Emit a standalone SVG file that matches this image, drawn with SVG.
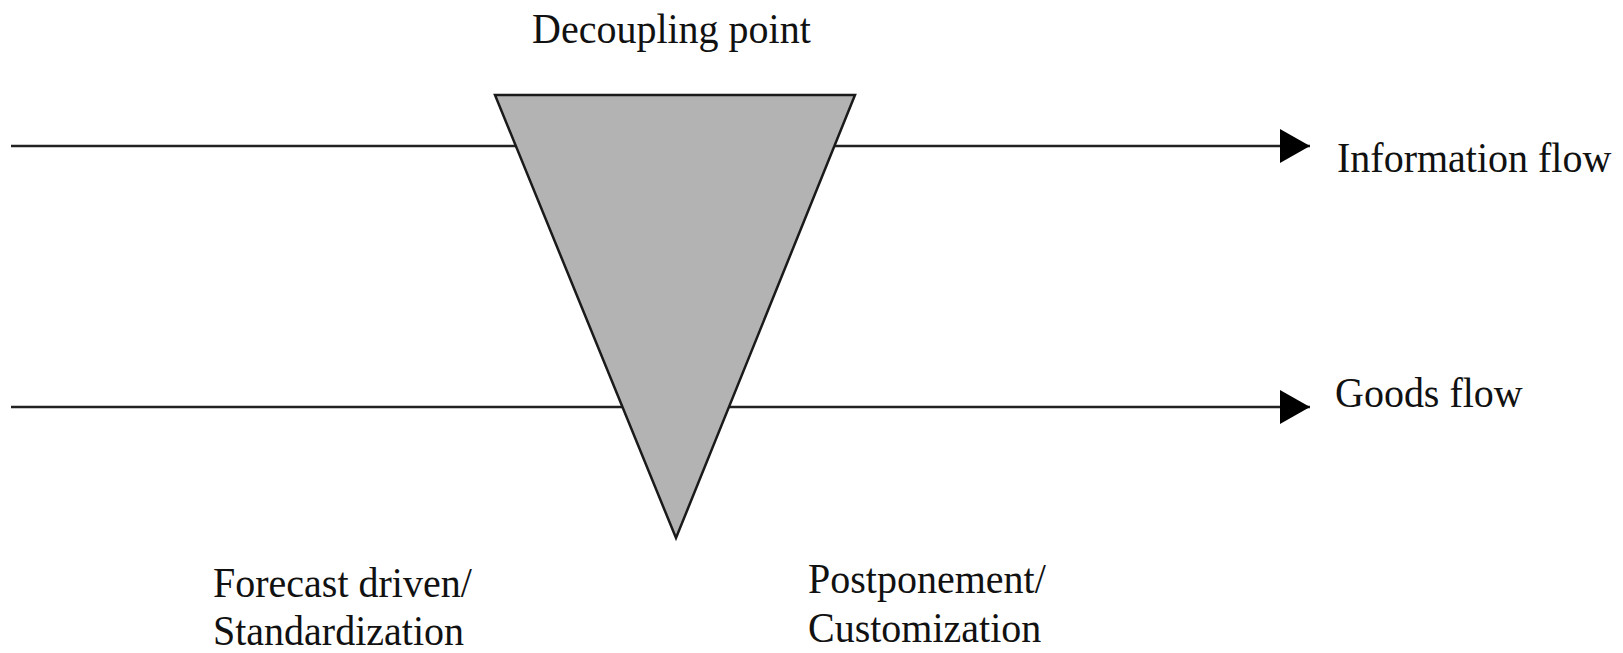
<svg xmlns="http://www.w3.org/2000/svg" width="1623" height="653" viewBox="0 0 1623 653">
<style>
text{font-family:"Liberation Serif","Times New Roman",serif;font-size:40px;fill:#111}
.flow{stroke:#222;stroke-width:2.5;fill:none}
</style>
<defs>
<marker id="arr" markerUnits="userSpaceOnUse" markerWidth="32" markerHeight="34" refX="30" refY="17" orient="auto">
<path d="M0,0 L30,17 L0,34 Z" fill="#000"/>
</marker>
</defs>
<rect width="1623" height="653" fill="#fff"/>
<g id="connectors">
<line class="flow" x1="11" y1="146" x2="1310" y2="146" marker-end="url(#arr)"/>
<line class="flow" x1="11" y1="407" x2="1310" y2="407" marker-end="url(#arr)"/>
</g>
<g id="decoupling">
<polygon points="495,95 855,95 676,538" fill="#b3b3b3" stroke="#1a1a1a" stroke-width="2.5" stroke-linejoin="miter"/>
<text transform="translate(532,43) scale(1,1.08)">Decoupling point</text>
</g>
<g id="info-flow"><text transform="translate(1337,172) scale(1,1.08)">Information flow</text></g>
<g id="goods-flow"><text transform="translate(1335,407) scale(1,1.08)">Goods flow</text></g>
<g id="forecast"><text transform="translate(213,597) scale(1,1.08)">Forecast driven/</text><text transform="translate(213,645) scale(1,1.08)">Standardization</text></g>
<g id="postponement"><text transform="translate(808,593) scale(1,1.08)">Postponement/</text><text transform="translate(808,642) scale(1,1.08)">Customization</text></g>
</svg>
